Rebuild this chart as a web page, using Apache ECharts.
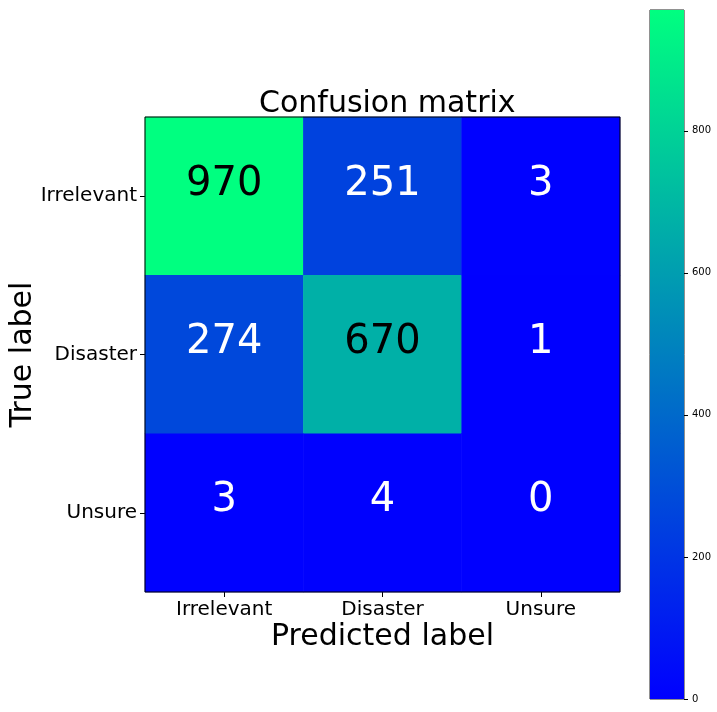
<!DOCTYPE html>
<html><head><meta charset="utf-8">
<script src="https://cdn.jsdelivr.net/npm/echarts@6/dist/echarts.min.js"></script>
<style>html,body{margin:0;padding:0;background:#fff}#c{width:717px;height:712px}</style>
</head><body><div id="c"></div>
<script>
const predictedLabels = ['Irrelevant', 'Disaster', 'Unsure'];
const trueLabels = ['Irrelevant', 'Disaster', 'Unsure'];
const matrix = [
  [970, 251, 3],
  [274, 670, 1],
  [3, 4, 0]
];
const colorbarTicks = [0, 200, 400, 600, 800];
const vmax = 970;

const font = 'DejaVu Sans';
const thresh = vmax / 2;
const data = [];
matrix.forEach((row, i) => row.forEach((v, j) => {
  data.push({ value: [j, i, v], label: { color: v > thresh ? '#000' : '#fff' } });
}));

const chart = echarts.init(document.getElementById('c'), null, { renderer: 'canvas' });
chart.setOption({
  backgroundColor: '#fff',
  animation: false,
  textStyle: { fontFamily: font },
  title: {
    text: 'Confusion matrix', left: 254, top: 84,
    textStyle: { fontFamily: font, fontSize: 30, fontWeight: 'normal', color: '#000' }
  },
  grid: [
    { left: 145, top: 117, width: 475, height: 475, containLabel: false, outerBoundsMode: 'none', show: true, borderColor: '#000', borderWidth: 1, backgroundColor: 'transparent', z: 10 },
    { left: 650, top: 10, width: 34, height: 689, containLabel: false, outerBoundsMode: 'none', show: true, borderColor: '#222', borderWidth: 1, backgroundColor: 'transparent' }
  ],
  xAxis: [
    {
      gridIndex: 0, type: 'category', data: predictedLabels, position: 'bottom',
      axisLine: { show: false }, splitLine: { show: false },
      axisTick: { show: true, alignWithLabel: true, length: 5, lineStyle: { color: '#000' } },
      axisLabel: { fontFamily: font, fontSize: 20, color: '#000', margin: 8 },
      name: 'Predicted label', nameLocation: 'middle', nameGap: 30, nameMoveOverlap: false,
      nameTextStyle: { fontFamily: font, fontSize: 30, color: '#000' }
    },
    { gridIndex: 1, type: 'category', data: ['c'], show: false }
  ],
  yAxis: [
    {
      gridIndex: 0, type: 'category', data: trueLabels, inverse: true,
      axisLine: { show: false }, splitLine: { show: false },
      axisTick: { show: true, alignWithLabel: true, length: 5, lineStyle: { color: '#000' } },
      axisLabel: { fontFamily: font, fontSize: 20, color: '#000', margin: 8, padding: [3, 0, 0, 0] },
      name: 'True label', nameLocation: 'middle', nameGap: 107, nameMoveOverlap: false,
      nameTextStyle: { fontFamily: font, fontSize: 30, color: '#000' }
    },
    {
      gridIndex: 1, type: 'value', min: 0, max: vmax, position: 'right',
      axisLine: { show: false }, splitLine: { show: false },
      axisTick: { show: true, length: 4, lineStyle: { color: '#000' }, customValues: colorbarTicks },
      axisLabel: {
        fontFamily: font, fontSize: 10, color: '#000', margin: 8,
        customValues: colorbarTicks
      },
      interval: 200
    }
  ],
  visualMap: {
    show: false, type: 'continuous', min: 0, max: vmax, seriesIndex: 0, dimension: 2,
    inRange: { color: ['#0000ff', '#00ff80'] }
  },
  series: [
    {
      type: 'heatmap', xAxisIndex: 0, yAxisIndex: 0, data: data,
      label: { show: true, fontFamily: font, fontSize: 40, offset: [0, -12], formatter: p => String(p.value[2]) },
      itemStyle: { borderWidth: 0 }
    },
    {
      type: 'bar', xAxisIndex: 1, yAxisIndex: 1, data: [vmax], barWidth: '100%',
      itemStyle: {
        color: new echarts.graphic.LinearGradient(0, 0, 0, 1, [
          { offset: 0, color: '#00ff80' }, { offset: 1, color: '#0000ff' }
        ])
      }
    }
  ]
});
</script></body></html>
